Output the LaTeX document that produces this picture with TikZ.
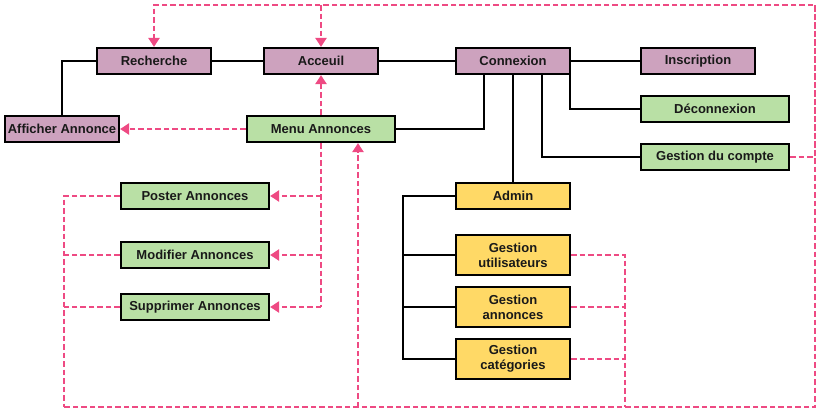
\documentclass[tikz,border=0pt]{standalone}
\usepackage{fontspec}
\setmainfont{Liberation Sans}
\usetikzlibrary{arrows.meta}
\definecolor{mauve}{HTML}{CDA2BE}
\definecolor{vert}{HTML}{B9E0A5}
\definecolor{jaune}{HTML}{FFD966}
\definecolor{rose}{HTML}{EE4A83}
\tikzset{
  box/.style={draw=black, line width=2.2pt, inner sep=0pt, align=center,
    font=\fontsize{13}{15}\selectfont\bfseries, text=black!90},
  pbox/.style={box, fill=mauve, minimum width=114pt, minimum height=26pt},
  gbox/.style={box, fill=vert, minimum width=148pt, minimum height=26pt},
  ybox/.style={box, fill=jaune, minimum width=114pt, minimum height=26pt},
  yybox/.style={box, fill=jaune, minimum width=114pt, minimum height=40pt},
  link/.style={draw=black, line width=2.2pt},
  dlink/.style={draw=rose, line width=2.2pt, dash pattern=on 5.5pt off 3pt},
  darrow/.style={dlink, -{Triangle[length=9pt,width=11pt]}},
}
\begin{document}
\begin{tikzpicture}[x=1pt,y=-1pt]
\useasboundingbox (0,0) rectangle (819,410);
% nodes
\node[pbox] (rech) at (154,61) {Recherche};
\node[pbox] (acc) at (321,61) {Acceuil};
\node[pbox] (conn) at (513,61) {Connexion};
\node[pbox] (insc) at (698,61) {Inscription};
\node[pbox] (aff) at (62,129) {Afficher Annonce};
\node[gbox] (menu) at (321,129) {Menu Annonces};
\node[gbox] (deco) at (715,109) {Déconnexion};
\node[gbox] (gcpt) at (715,157) {Gestion du compte};
\node[gbox] (post) at (195,196) {Poster Annonces};
\node[gbox] (modif) at (195,255) {Modifier Annonces};
\node[gbox] (supp) at (195,307) {Supprimer Annonces};
\node[ybox] (admin) at (513,196) {Admin};
\node[yybox] (gu) at (513,255) {Gestion\\utilisateurs};
\node[yybox] (ga) at (513,307) {Gestion\\annonces};
\node[yybox] (gc) at (513,359) {Gestion\\catégories};
% helper coordinates
\coordinate (tr) at (815,5);
\coordinate (br) at (815,407);
\coordinate (bl) at (64,407);
\coordinate (gx) at (625,407);
\coordinate (ax) at (403,196);
\coordinate (mu) at ([xshift=37pt]menu.south);
\coordinate (c1) at ([xshift=-29pt]conn.south);
\coordinate (c3) at ([xshift=29pt]conn.south);
\coordinate (c4) at ([xshift=57pt]conn.south);
% black links
\draw[link] (rech.west) -| (aff.north);
\draw[link] (rech.east) -- (acc.west);
\draw[link] (acc.east) -- (conn.west);
\draw[link] (conn.east) -- (insc.west);
\draw[link] (c4) |- (deco.west);
\draw[link] (c1) |- (menu.east);
\draw[link] (conn.south) -- (admin.north);
\draw[link] (c3) |- (gcpt.west);
\draw[link] (admin.west) -- (ax) |- (gc.west);
\draw[link] (gu.west) -- (gu.west -| ax);
\draw[link] (ga.west) -- (ga.west -| ax);
% pink dashed links
\draw[darrow] (gcpt.east) -| (tr) -| (rech.north);
\draw[darrow] (acc.north |- tr) -- (acc.north);
\draw[dlink] (tr) -- (br) -- (bl);
\draw[darrow] (menu.north) -- (acc.south);
\draw[darrow] (menu.west) -- (aff.east);
\draw[dlink] (menu.south) -- (menu.south |- supp.east);
\draw[darrow] (menu.south |- post.east) -- (post.east);
\draw[darrow] (menu.south |- modif.east) -- (modif.east);
\draw[darrow] (menu.south |- supp.east) -- (supp.east);
\draw[dlink] (post.west) -| (bl);
\draw[dlink] (modif.west) -- (modif.west -| bl);
\draw[dlink] (supp.west) -- (supp.west -| bl);
\draw[darrow] (mu |- bl) -- (mu);
\draw[dlink] (gu.east) -| (gx);
\draw[dlink] (ga.east) -- (ga.east -| gx);
\draw[dlink] (gc.east) -- (gc.east -| gx);
\end{tikzpicture}
\end{document}
